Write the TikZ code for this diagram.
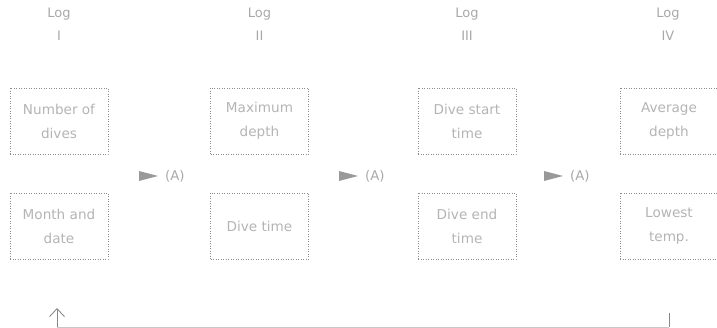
\documentclass[tikz,border=0pt]{standalone}
\usepackage{fontspec}
\setmainfont{DejaVu Sans}
\usetikzlibrary{arrows.meta}
\definecolor{boxtext}{HTML}{B4B4B4}
\definecolor{titletext}{HTML}{A8A8A8}
\definecolor{boxborder}{HTML}{8C8C8C}
\definecolor{tri}{HTML}{999999}
\definecolor{loopline}{HTML}{C8C8C8}
\definecolor{loopdark}{HTML}{888888}
\tikzset{
  x=1pt, y=1pt,
  fieldbox/.style={draw=boxborder, line width=0.8pt, dash pattern=on 0.8pt off 1.7pt,
    minimum width=98pt, minimum height=66pt, inner sep=0pt, align=center,
    text=boxtext, font=\fontsize{13.6}{24}\selectfont},
  logtitle/.style={align=center, text=titletext, font=\fontsize{13}{23}\selectfont, inner sep=0pt},
  alabel/.style={text=titletext, font=\fontsize{13.3}{16}\selectfont, inner sep=0pt, anchor=west},
  tritip/.style={fill=tri, draw=none}
}
\begin{document}
\begin{tikzpicture}
\clip (0,-328) rectangle (717,0);
\useasboundingbox (0,-328) rectangle (717,0);
% titles
\node[logtitle] (t1) at (59,-24.5) {Log\\I};
\node[logtitle] (t2) at (259.5,-24.5) {Log\\II};
\node[logtitle] (t3) at (467,-24.5) {Log\\III};
\node[logtitle] (t4) at (668,-24.5) {Log\\IV};
% boxes
\node[fieldbox] (a1) at (59,-121) {Number of\\dives};
\node[fieldbox] (b1) at (59,-226) {Month and\\date};
\node[fieldbox] (a2) at (259.5,-121) {Maximum\\depth};
\node[fieldbox] (b2) at (259.5,-226) {Dive time};
\node[fieldbox] (a3) at (467,-121) {Dive start\\time};
\node[fieldbox] (b3) at (467,-226) {Dive end\\time};
\node[fieldbox] (a4) at (669,-121) {Average\\depth};
\node[fieldbox] (b4) at (669,-226) {Lowest\\temp.};
% triangles and (A)
\foreach \i/\x in {1/139,2/339,3/544}{
  \fill[tritip] (\x,-171) -- (\x+19,-176) -- (\x,-181) -- cycle;
  \node[alabel] (lab\i) at (\x+26,-176) {(A)};
}
% loop back connector
\coordinate (up) at (57,-308);
\coordinate (upbase) at (57,-327.5);
\coordinate (tick) at (669,-313);
\coordinate (tickbase) at (669,-327.5);
\draw[loopline, line width=1pt] (upbase) -- (tickbase);
\draw[loopdark, line width=1pt] (tick) -- (tickbase);
\draw[loopdark, line width=0.9pt, -{Straight Barb[length=8pt,width=15pt]}] (upbase) -- (up);
\end{tikzpicture}
\end{document}
